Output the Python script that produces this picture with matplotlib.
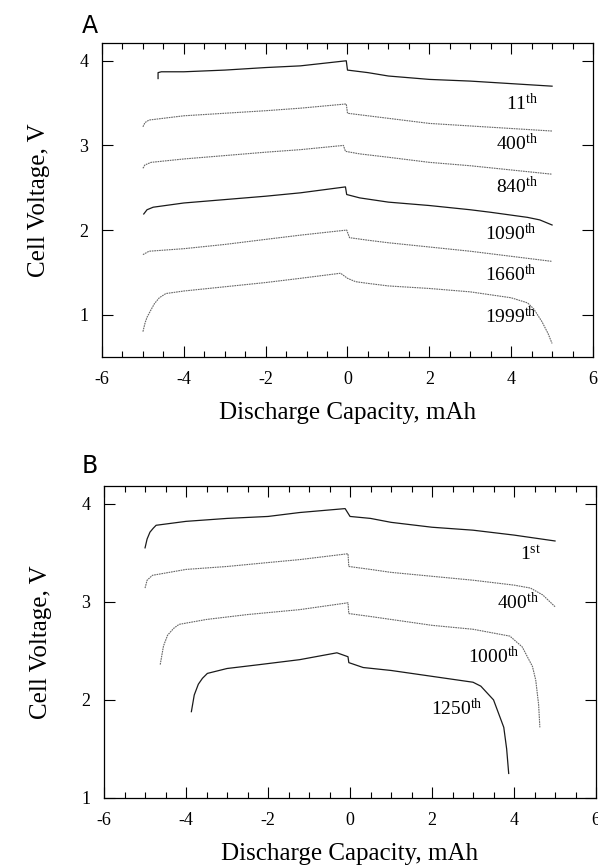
import matplotlib
matplotlib.use("Agg")
import matplotlib.pyplot as plt
from matplotlib.ticker import MultipleLocator

plt.rcParams["font.family"] = ["Liberation Serif", "DejaVu Serif"]
plt.rcParams["mathtext.fontset"] = "custom"
plt.rcParams["mathtext.rm"] = "Liberation Serif"

# ---- panel A: cycles 11 .. 1999 ----
a11_x = [-4.63, -4.63, -4.55, -4.0, -3.0, -2.0, -1.15, -0.03, 0.0, 0.5, 1.0, 2.0, 3.0, 4.0, 5.0]
a11_y = [3.79, 3.86, 3.87, 3.87, 3.89, 3.92, 3.94, 4.00, 3.89, 3.86, 3.82, 3.78, 3.76, 3.73, 3.70]

a400_x = [-5.0, -4.95, -4.85, -4.0, -3.0, -2.0, -1.15, -0.03, 0.0, 0.5, 1.0, 2.0, 3.0, 4.0, 5.0]
a400_y = [3.22, 3.27, 3.30, 3.35, 3.38, 3.41, 3.44, 3.49, 3.38, 3.35, 3.32, 3.26, 3.23, 3.20, 3.17]

a840_x = [-5.0, -4.95, -4.8, -4.0, -3.0, -2.0, -1.15, -0.1, -0.05, 0.3, 1.0, 2.0, 3.0, 4.0, 5.0]
a840_y = [2.73, 2.77, 2.80, 2.84, 2.88, 2.92, 2.95, 3.00, 2.93, 2.90, 2.86, 2.80, 2.76, 2.71, 2.66]

a1090_x = [-4.98, -4.9, -4.75, -4.0, -3.0, -2.0, -1.15, -0.05, -0.02, 0.3, 1.0, 2.0, 3.0, 3.5, 4.4, 4.7, 5.0]
a1090_y = [2.19, 2.24, 2.27, 2.32, 2.36, 2.40, 2.44, 2.51, 2.42, 2.38, 2.33, 2.29, 2.24, 2.21, 2.15, 2.12, 2.06]

a1660_x = [-5.0, -4.85, -4.0, -3.0, -2.0, -1.15, -0.02, 0.05, 0.5, 1.0, 2.0, 3.0, 4.0, 5.0]
a1660_y = [1.71, 1.75, 1.78, 1.83, 1.89, 1.94, 2.00, 1.91, 1.88, 1.85, 1.80, 1.75, 1.69, 1.63]

a1999_x = [-5.0, -4.95, -4.9, -4.8, -4.72, -4.6, -4.44, -4.0, -3.0, -2.0, -1.15, -0.17,
           0.0, 0.2, 0.5, 1.0, 2.0, 3.0, 4.0, 4.4, 4.55, 4.75, 4.9, 5.0]
a1999_y = [0.80, 0.90, 0.97, 1.06, 1.13, 1.20, 1.25, 1.28, 1.33, 1.38, 1.43, 1.49,
           1.43, 1.39, 1.37, 1.34, 1.31, 1.27, 1.20, 1.14, 1.07, 0.92, 0.78, 0.66]

# ---- panel B: cycles 1 .. 1250 ----
b1_x = [-5.0, -4.95, -4.88, -4.8, -4.73, -4.0, -3.0, -2.0, -1.23, -0.12, 0.0, 0.5, 1.0, 2.0, 3.0, 4.0, 5.0]
b1_y = [3.55, 3.64, 3.71, 3.75, 3.78, 3.82, 3.85, 3.87, 3.91, 3.95, 3.87, 3.85, 3.81, 3.76, 3.73, 3.68, 3.62]

b400_x = [-5.0, -4.95, -4.82, -4.0, -3.0, -2.0, -1.23, -0.05, -0.03, 0.5, 1.0, 2.0, 3.0, 4.0, 4.4, 4.7, 5.0]
b400_y = [3.14, 3.22, 3.27, 3.33, 3.36, 3.40, 3.43, 3.49, 3.36, 3.33, 3.30, 3.26, 3.22, 3.17, 3.14, 3.07, 2.95]

b1000_x = [-4.63, -4.55, -4.45, -4.3, -4.17, -3.5, -2.5, -1.23, -0.05, -0.03, 0.5, 1.0, 2.0, 3.0,
           3.9, 4.2, 4.45, 4.53, 4.6, 4.63]
b1000_y = [2.36, 2.55, 2.66, 2.73, 2.77, 2.82, 2.87, 2.92, 2.99, 2.88, 2.85, 2.82, 2.76, 2.72,
           2.65, 2.54, 2.34, 2.20, 1.95, 1.72]

b1250_x = [-3.87, -3.8, -3.7, -3.6, -3.48, -3.0, -2.2, -1.23, -0.32, -0.05, -0.03, 0.32, 1.0, 2.0,
           3.0, 3.19, 3.5, 3.75, 3.82, 3.87]
b1250_y = [1.88, 2.05, 2.16, 2.22, 2.27, 2.32, 2.36, 2.41, 2.48, 2.44, 2.38, 2.33, 2.30, 2.24,
           2.18, 2.14, 2.00, 1.72, 1.50, 1.25]

labels_a = ["11", "400", "840", "1090", "1660", "1999"]
suffix_a = ["th"] * 6
label_pos_a = [(4.27, 3.50), (4.15, 3.02), (4.15, 2.51), (4.0, 1.96), (4.0, 1.47), (4.0, 0.98)]
labels_b = ["1", "400", "1000", "1250"]
suffix_b = ["st", "th", "th", "th"]
label_pos_b = [(4.4, 3.48), (4.1, 2.99), (3.5, 2.44), (2.6, 1.91)]

solid = dict(color="0.1", lw=0.9)
dotted = dict(color="0.4", lw=0.8, ls=(0, (1.5, 0.7)))

fig = plt.figure(figsize=(5.98, 8.67), dpi=100)
ax1 = fig.add_axes([0.1706, 0.5882, 0.821, 0.3622])
ax2 = fig.add_axes([0.174, 0.0796, 0.8227, 0.3598])

ax1.plot(a11_x, a11_y, **solid)
ax1.plot(a400_x, a400_y, **dotted)
ax1.plot(a840_x, a840_y, **dotted)
ax1.plot(a1090_x, a1090_y, **solid)
ax1.plot(a1660_x, a1660_y, **dotted)
ax1.plot(a1999_x, a1999_y, **dotted)

ax2.plot(b1_x, b1_y, **solid)
ax2.plot(b400_x, b400_y, **dotted)
ax2.plot(b1000_x, b1000_y, **dotted)
ax2.plot(b1250_x, b1250_y, **solid)

for lab, suf, (x, y) in zip(labels_a, suffix_a, label_pos_a):
    ax1.text(x, y, r"$\mathregular{%s^{%s}}$" % (lab, suf), fontsize=14, ha="center", va="center")
for lab, suf, (x, y) in zip(labels_b, suffix_b, label_pos_b):
    ax2.text(x, y, r"$\mathregular{%s^{%s}}$" % (lab, suf), fontsize=14, ha="center", va="center")

for ax, ylim in ((ax1, (0.5, 4.21)), (ax2, (1.0, 4.18))):
    ax.set_xlim(-6, 6)
    ax.set_ylim(*ylim)
    ax.xaxis.set_major_locator(MultipleLocator(2))
    ax.xaxis.set_minor_locator(MultipleLocator(0.5))
    ax.yaxis.set_major_locator(MultipleLocator(1))
    ax.tick_params(which="both", direction="in", top=True, right=True, labelsize=13, pad=10)
    ax.tick_params(which="major", length=8, width=0.8)
    ax.tick_params(which="minor", length=4, width=0.8)
    ax.xaxis.set_major_formatter(plt.FuncFormatter(lambda v, p: "%d" % v))
    for s in ax.spines.values():
        s.set_linewidth(0.9)
    ax.set_ylabel("Cell Voltage, V", fontsize=18)
    ax.set_xlabel("Discharge Capacity, mAh", fontsize=18)
    ax.yaxis.set_label_coords(-0.106, 0.5)

ax1.xaxis.set_label_coords(0.5, -0.143)
ax2.xaxis.set_label_coords(0.5, -0.144)

fig.text(0.137, 0.962, "A", family="DejaVu Sans", fontsize=17)
fig.text(0.137, 0.455, "B", family="DejaVu Sans", fontsize=17)

fig.savefig("out.png", dpi=100)
